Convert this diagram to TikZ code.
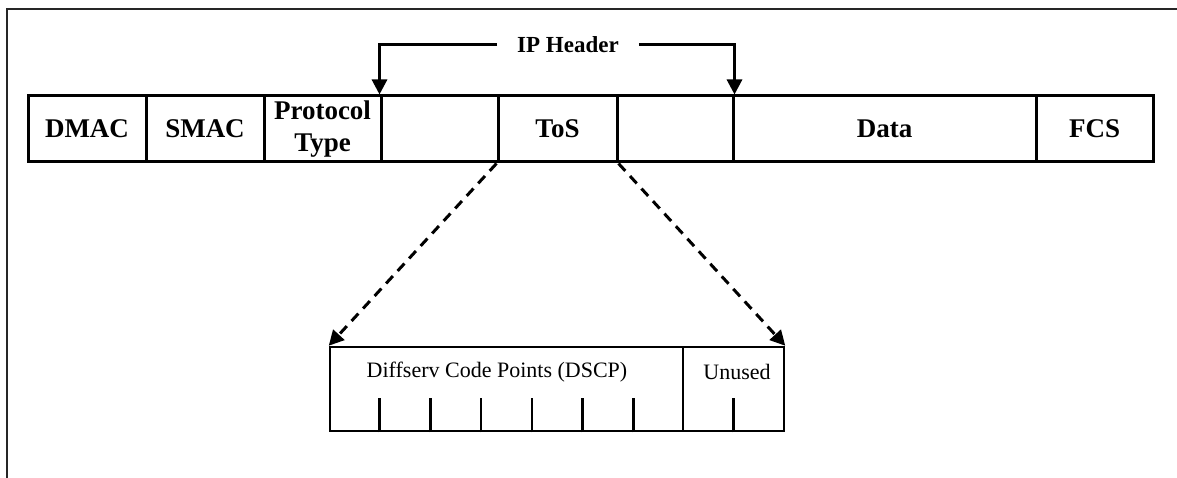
\documentclass[tikz,border=0pt]{standalone}
\usepackage{fontspec}
\setmainfont{Liberation Serif}
\usetikzlibrary{arrows.meta,calc}
\begin{document}
\begin{tikzpicture}[x=1pt,y=-1pt,
  field/.style={draw,line width=3pt,inner sep=0pt,minimum height=66pt,font=\bfseries\fontsize{27}{33}\selectfont,align=center},
  sub/.style={draw,line width=2.5pt,inner sep=0pt,minimum height=84pt},
  small/.style={font=\fontsize{22}{26}\selectfont,inner sep=0pt},
  harrow/.style={line width=3pt,-{Triangle[length=15pt,width=15pt]}},
  darrow/.style={line width=3pt,dash pattern=on 10pt off 7pt,-{Triangle[length=15pt,width=15pt]}},
  tick/.style={line width=2.5pt}
]
\useasboundingbox (0,0) rectangle (1177,478);
\draw[line width=2pt,black!85] (1177,9) -- (7,9) -- (7,478);
% main frame fields
\node[field,minimum width=118pt] (dmac) at (87,129) {DMAC};
\node[field,minimum width=118pt] (smac) at (205,129) {SMAC};
\node[field,minimum width=117pt] (proto) at (322.5,129) {Protocol\\[-1pt]Type};
\node[field,minimum width=117pt] (f4) at (439.5,129) {};
\node[field,minimum width=119pt] (tos) at (557.5,129) {ToS};
\node[field,minimum width=116pt] (f6) at (675,129) {};
\node[field,minimum width=303pt] (data) at (884.5,129) {Data};
\node[field,minimum width=117pt] (fcs) at (1094.5,129) {FCS};
% IP header
\node[font=\bfseries\fontsize{23}{27}\selectfont,inner xsep=20pt,inner ysep=0pt] (iph) at (568,45) {IP Header};
\draw[harrow] (iph.west) -| (f4.north west);
\draw[harrow] (iph.east) -| (f6.north east);
% ToS expansion
\node[sub,minimum width=353pt] (dscp) at (506.5,389) {};
\node[sub,minimum width=101pt] (unused) at (733.5,389) {};
\node[small] (dscpt) at (497,372) {Diffserv Code Points (DSCP)};
\node[small] (unusedt) at (737,372) {Unused};
\foreach \k in {1,...,6}
  \draw[tick] ($(dscp.south west)!\k/7!(dscp.south east)$) -- ++(0,-34);
\draw[tick] ($(unused.south west)!0.5!(unused.south east)$) -- ++(0,-34);
\draw[darrow] (tos.south west) -- (dscp.north west);
\draw[darrow] (tos.south east) -- (unused.north east);
\end{tikzpicture}
\end{document}
